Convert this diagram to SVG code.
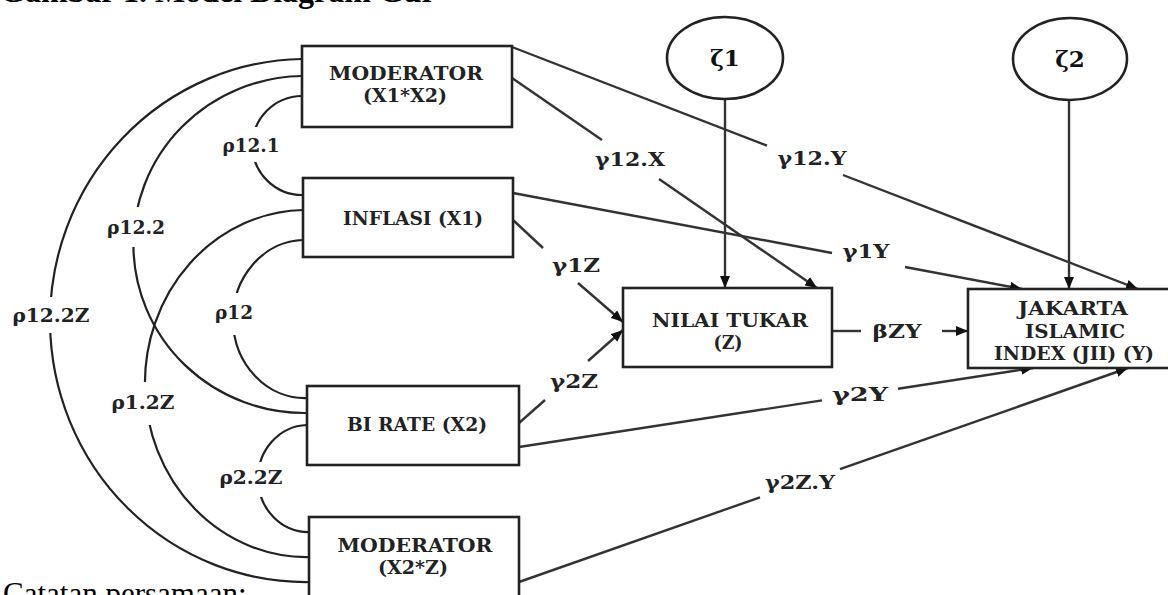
<svg xmlns="http://www.w3.org/2000/svg" width="1168" height="595" viewBox="0 0 1168 595">
<style>
.box{fill:#fff;stroke:#222;stroke-width:2.6}
.ell{fill:#fff;stroke:#222;stroke-width:2.6}
.ln{fill:none;stroke:#333;stroke-width:2.4}
.arc{fill:none;stroke:#222;stroke-width:2.2}
.bt{font-family:"DejaVu Serif",serif;font-weight:bold;font-size:18px;fill:#222;text-anchor:middle}
.lb{font-family:"DejaVu Serif",serif;font-weight:bold;font-size:19px;fill:#222;text-anchor:middle}
.zt{font-family:"DejaVu Serif",serif;font-weight:bold;font-size:23px;fill:#111;text-anchor:middle}
.cap{font-family:"Liberation Serif",serif;fill:#000}
</style>
<defs>
<marker id="arr" viewBox="0 0 12 10" refX="12" refY="5" markerWidth="12" markerHeight="10" markerUnits="userSpaceOnUse" orient="auto">
<path d="M0,0 L12,5 L0,10 z" fill="#111"/>
</marker>
<mask id="gaps" maskUnits="userSpaceOnUse" x="0" y="0" width="1168" height="595">
<rect x="0" y="0" width="1168" height="595" fill="#fff"/>
<rect x="0" y="297" width="100" height="36" fill="#000"/>
<rect x="100" y="207" width="75" height="40" fill="#000"/>
<rect x="220" y="127" width="70" height="35" fill="#000"/>
<rect x="105" y="382" width="75" height="43" fill="#000"/>
<rect x="205" y="293" width="60" height="42" fill="#000"/>
<rect x="218" y="462" width="72" height="35" fill="#000"/>
</mask>
</defs>
<rect width="1168" height="595" fill="#fff"/>

<text class="cap" x="0" y="2" font-size="32" font-weight="bold">Gambar 1. Model Diagram Gur</text>
<text class="cap" x="3" y="604" font-size="31">Catatan persamaan:</text>

<g id="connectors">
<g mask="url(#gaps)">
<path class="arc" d="M302,59 A248.3,253.7 0 0 0 310,582"/>
<path class="arc" d="M302,76 A165.9,163.4 0 0 0 307,413"/>
<path class="arc" d="M302,96 A48.5,48 0 0 0 303,195"/>
<path class="arc" d="M303,210 A156.7,168.3 0 0 0 310,557"/>
<path class="arc" d="M303,240 A69.8,76.6 0 0 0 307,398"/>
<path class="arc" d="M307,425 A49,51.9 0 0 0 310,532"/>
</g>
<path class="ln" d="M512,47 L767,145.6"/>
<path class="ln" d="M843,175 L1138,289" marker-end="url(#arr)"/>
<path class="ln" d="M512,78 L602,140"/>
<path class="ln" d="M659,179 L817,288" marker-end="url(#arr)"/>
<path class="ln" d="M513,193 L832,253"/>
<path class="ln" d="M905,267 L1022,289" marker-end="url(#arr)"/>
<path class="ln" d="M513,220 L543,248"/>
<path class="ln" d="M578,283 L623,322" marker-end="url(#arr)"/>
<path class="ln" d="M519,423 L545,400"/>
<path class="ln" d="M588,361 L623,330" marker-end="url(#arr)"/>
<path class="ln" d="M519,447 L822,400.4"/>
<path class="ln" d="M898,388.7 L1033,368" marker-end="url(#arr)"/>
<path class="ln" d="M519,582 L760,497.3"/>
<path class="ln" d="M840,469.2 L1128,368" marker-end="url(#arr)"/>
<path class="ln" d="M832,331 L861,331"/>
<path class="ln" d="M942,331 L968,331" marker-end="url(#arr)"/>
<path class="ln" d="M725,99 L725,288" marker-end="url(#arr)"/>
<path class="ln" d="M1069,100 L1069,289" marker-end="url(#arr)"/>

<text class="lb" x="51" y="322" textLength="77" lengthAdjust="spacingAndGlyphs">ρ12.2Z</text>
<text class="lb" x="136" y="234" textLength="58" lengthAdjust="spacingAndGlyphs">ρ12.2</text>
<text class="lb" x="251" y="152" textLength="57" lengthAdjust="spacingAndGlyphs">ρ12.1</text>
<text class="lb" x="234" y="319" textLength="38" lengthAdjust="spacingAndGlyphs">ρ12</text>
<text class="lb" x="143" y="409" textLength="63" lengthAdjust="spacingAndGlyphs">ρ1.2Z</text>
<text class="lb" x="251" y="484" textLength="63" lengthAdjust="spacingAndGlyphs">ρ2.2Z</text>
<text class="lb" x="630" y="166" textLength="70" lengthAdjust="spacingAndGlyphs">γ12.X</text>
<text class="lb" x="812" y="165" textLength="69" lengthAdjust="spacingAndGlyphs">γ12.Y</text>
<text class="lb" x="866" y="258" textLength="47" lengthAdjust="spacingAndGlyphs">γ1Y</text>
<text class="lb" x="576" y="272" textLength="48" lengthAdjust="spacingAndGlyphs">γ1Z</text>
<text class="lb" x="574" y="388" textLength="48" lengthAdjust="spacingAndGlyphs">γ2Z</text>
<text class="lb" x="860" y="401" textLength="56" lengthAdjust="spacingAndGlyphs">γ2Y</text>
<text class="lb" x="800" y="489" textLength="70" lengthAdjust="spacingAndGlyphs">γ2Z.Y</text>
<text class="lb" x="897" y="338" textLength="49" lengthAdjust="spacingAndGlyphs">βZY</text>
</g>

<g id="zeta1">
<ellipse class="ell" cx="725" cy="58" rx="58" ry="41"/>
<text class="zt" x="725" y="66">ζ1</text>
</g>
<g id="zeta2">
<ellipse class="ell" cx="1070" cy="59" rx="57" ry="41"/>
<text class="zt" x="1070" y="67">ζ2</text>
</g>

<g id="moderator1">
<rect class="box" x="302" y="46" width="210" height="81"/>
<text class="bt" x="406" y="80" textLength="154" lengthAdjust="spacingAndGlyphs">MODERATOR</text>
<text class="bt" x="405" y="102" textLength="84" lengthAdjust="spacingAndGlyphs">(X1*X2)</text>
</g>
<g id="inflasi">
<rect class="box" x="303" y="178" width="210" height="79"/>
<text class="bt" x="413" y="225" textLength="140" lengthAdjust="spacingAndGlyphs">INFLASI (X1)</text>
</g>
<g id="birate">
<rect class="box" x="307" y="386" width="212" height="79"/>
<text class="bt" x="417" y="431" textLength="140" lengthAdjust="spacingAndGlyphs">BI RATE (X2)</text>
</g>
<g id="moderator2">
<rect class="box" x="309" y="517" width="210" height="82"/>
<text class="bt" x="415" y="552" textLength="155" lengthAdjust="spacingAndGlyphs">MODERATOR</text>
<text class="bt" x="413" y="574" textLength="70" lengthAdjust="spacingAndGlyphs">(X2*Z)</text>
</g>
<g id="nilaitukar">
<rect class="box" x="623" y="288" width="209" height="79"/>
<text class="bt" x="730" y="327" textLength="156" lengthAdjust="spacingAndGlyphs">NILAI TUKAR</text>
<text class="bt" x="728" y="349" textLength="29" lengthAdjust="spacingAndGlyphs">(Z)</text>
</g>
<g id="jii">
<rect class="box" x="968" y="289" width="204" height="79"/>
<text class="bt" x="1073" y="315" textLength="110" lengthAdjust="spacingAndGlyphs">JAKARTA</text>
<text class="bt" x="1075" y="338" textLength="100" lengthAdjust="spacingAndGlyphs">ISLAMIC</text>
<text class="bt" x="1074" y="360" textLength="160" lengthAdjust="spacingAndGlyphs">INDEX (JII) (Y)</text>
</g>
</svg>
